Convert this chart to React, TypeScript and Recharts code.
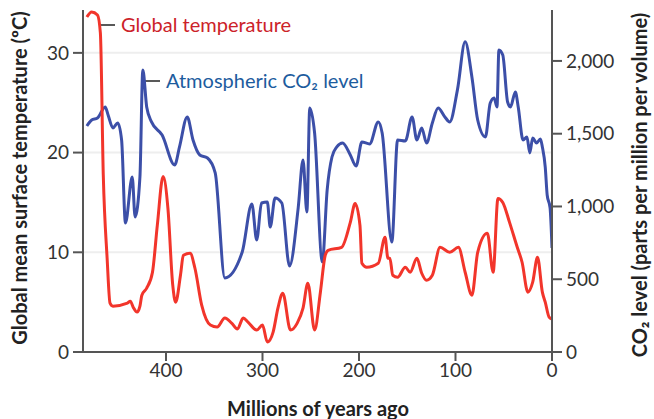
import { LineChart, Line, XAxis, YAxis, CartesianGrid } from 'recharts'

// millions of years ago / global mean temperature (ºC)
const tempAge = [482, 477, 471, 468, 465, 461, 458, 455, 440, 437, 434, 430, 427, 425, 420, 414, 409, 403, 398, 393, 390, 385, 382, 375, 370, 363, 354, 347, 339, 332, 326, 320, 315, 306, 300, 295, 289, 284, 279, 271, 264, 258, 253, 246, 240, 235, 232, 218, 209, 204, 199, 197, 192, 180, 173, 170, 168, 165, 160, 152, 147, 140, 135, 130, 124, 116, 106, 97, 90, 83, 77, 67, 61, 56, 51, 44, 36, 31, 25, 20, 15, 10, 7, 3, 0]
const tempVals = [33.6, 34.1, 33.8, 32.0, 17.8, 9.4, 4.9, 4.6, 4.9, 5.1, 4.5, 4.0, 4.6, 5.7, 6.4, 8.0, 12.7, 17.6, 14.4, 6.7, 5.0, 7.7, 9.7, 9.9, 8.4, 4.7, 2.7, 2.5, 3.4, 2.9, 2.3, 3.4, 3.0, 2.2, 2.7, 1.0, 2.0, 4.4, 5.9, 2.2, 2.9, 4.4, 6.9, 2.2, 6.0, 9.7, 10.2, 10.5, 13.0, 14.9, 12.7, 8.9, 8.5, 8.9, 11.5, 9.4, 9.4, 7.7, 7.5, 8.5, 8.0, 9.4, 7.9, 7.2, 7.7, 10.5, 10.0, 10.5, 8.0, 5.7, 10.0, 11.9, 8.0, 15.4, 15.0, 13.0, 10.5, 9.0, 6.0, 7.0, 9.5, 6.0, 5.0, 3.5, 3.3]

// millions of years ago / atmospheric CO2 (ppm)
const co2Age = [482, 477, 471, 463, 460, 455, 450, 446, 442, 435, 432, 427, 424, 420, 415, 404, 391, 386, 378, 372, 365, 357, 349, 339, 321, 311, 306, 301, 295, 292, 287, 280, 272, 263, 258, 254, 251, 246, 238, 233, 228, 223, 217, 209, 203, 197, 189, 180, 176, 166, 160, 152, 145, 140, 135, 130, 124, 118, 111, 106, 98, 90, 83, 77, 69, 64, 60, 57, 55, 51, 46, 43, 38, 35, 30, 26, 23, 20, 16, 12, 10, 7, 5, 2, 0]
const co2Vals = [1553, 1594, 1608, 1684, 1629, 1540, 1574, 1457, 887, 1203, 928, 1203, 1938, 1684, 1581, 1491, 1285, 1409, 1615, 1457, 1354, 1333, 1230, 509, 687, 1017, 770, 1024, 1031, 859, 1058, 1024, 591, 990, 1320, 962, 1677, 1505, 619, 1113, 1340, 1409, 1436, 1354, 1278, 1443, 1430, 1581, 1505, 756, 1457, 1450, 1615, 1457, 1540, 1436, 1574, 1677, 1615, 1581, 1801, 2131, 1890, 1594, 1478, 1711, 1746, 1684, 2076, 2041, 1718, 1684, 1787, 1684, 1457, 1478, 1368, 1471, 1436, 1464, 1409, 1271, 1079, 990, 715]

const xTicks = [0, 100, 200, 300, 400]
const tempTicks = [0, 10, 20, 30]
const co2Ticks = [0, 500, 1000, 1500, 2000]

const tempData = tempAge.map((age, i) => ({ age, temp: tempVals[i] }))
const co2Data = co2Age.map((age, i) => ({ age, co2: co2Vals[i] }))

const font = 'Lato, "Noto Sans", sans-serif'
const tick = { fontSize: 19, fill: '#333', fontFamily: font }
const axisLine = { stroke: '#555', strokeWidth: 2 }

export default function App() {
  return (
    <div style={{ position: 'absolute', left: 0, top: 0, background: '#fff' }}>
      <LineChart width={654} height={419} margin={{ top: 10, right: 0, bottom: 0, left: 0 }}>
        <CartesianGrid yAxisId="temp" horizontal vertical={false} stroke="#eeeeee" strokeWidth={2} horizontalValues={[10, 20, 30]} />
        <XAxis
          type="number"
          dataKey="age"
          domain={[0, 486]}
          reversed
          ticks={xTicks}
          allowDataOverflow
          height={67}
          tickSize={9}
          tickMargin={3}
          tick={tick}
          axisLine={axisLine}
          tickLine={axisLine}
        />
        <YAxis
          yAxisId="temp"
          domain={[0, 34.3]}
          ticks={tempTicks}
          allowDataOverflow
          width={83}
          tickSize={10}
          tickMargin={4}
          tick={tick}
          axisLine={axisLine}
          tickLine={axisLine}
        />
        <YAxis
          yAxisId="co2"
          orientation="right"
          domain={[0, 2350]}
          ticks={co2Ticks}
          allowDataOverflow
          width={102}
          tickSize={10}
          tickMargin={4}
          tick={tick}
          tickFormatter={(v: number) => v.toLocaleString('en-US')}
          axisLine={axisLine}
          tickLine={axisLine}
        />
        <Line
          yAxisId="co2"
          data={co2Data}
          dataKey="co2"
          type="monotone"
          stroke="#3c4fa8"
          strokeWidth={3}
          dot={false}
          isAnimationActive={false}
        />
        <Line
          yAxisId="temp"
          data={tempData}
          dataKey="temp"
          type="monotone"
          stroke="#f2352b"
          strokeWidth={3}
          dot={false}
          isAnimationActive={false}
        />

        {/* series annotations */}
        <line x1={101} y1={25} x2={115} y2={25} stroke="#222" strokeWidth={1.5} />
        <text x={121} y={32} fontSize={20} fontFamily={font} fill="#cc2229">Global temperature</text>
        <line x1={145} y1={81} x2={160} y2={81} stroke="#222" strokeWidth={1.5} />
        <text x={166} y={88} fontSize={20} fontFamily={font} fill="#1d5c9e">Atmospheric CO₂ level</text>

        {/* axis titles */}
        <text x={318} y={416} textAnchor="middle" fontSize={20} fontWeight="bold" fontFamily={font} fill="#222">Millions of years ago</text>
        <text transform="translate(27,178) rotate(-90)" textAnchor="middle" fontSize={20} fontWeight="bold" fontFamily={font} fill="#222">Global mean surface temperature (ºC)</text>
        <text transform="translate(647,185) rotate(-90)" textAnchor="middle" fontSize={20} fontWeight="bold" fontFamily={font} fill="#222">CO₂ level (parts per million per volume)</text>
      </LineChart>
    </div>
  )
}
